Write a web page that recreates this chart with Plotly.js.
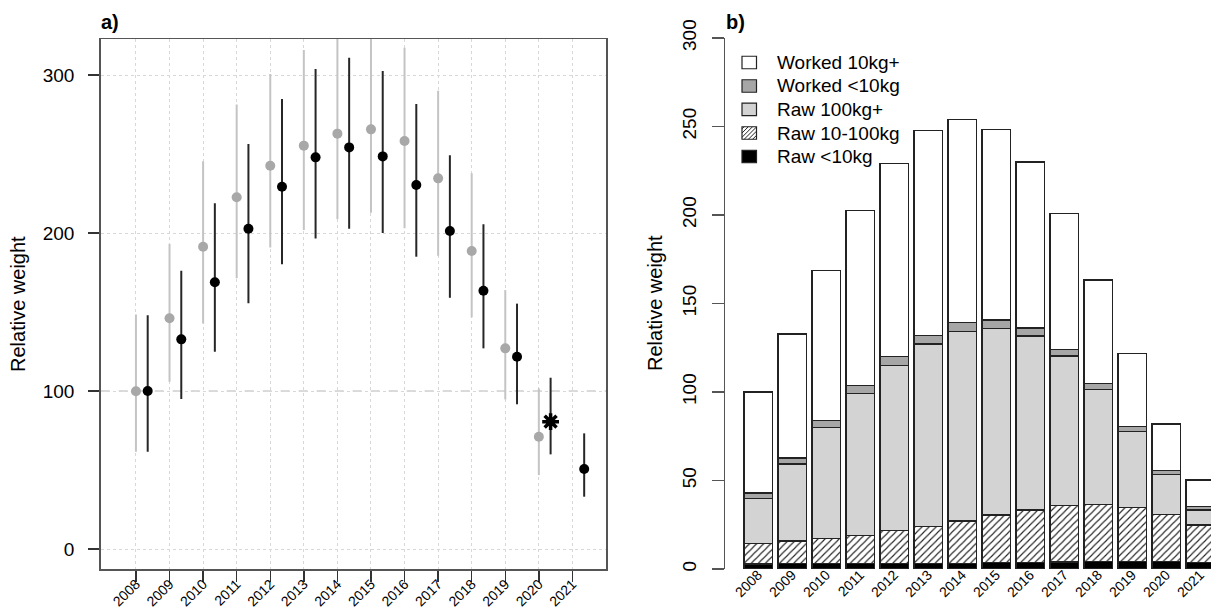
<!DOCTYPE html>
<html><head><meta charset="utf-8">
<script src="https://cdn.plot.ly/plotly-3.0.1.min.js"></script>
<style>html,body{margin:0;padding:0;background:#fff}#chart{width:1211px;height:612px}</style>
</head><body><div id="chart"></div>
<script>
// ---------- DATA ----------
const years = [2008,2009,2010,2011,2012,2013,2014,2015,2016,2017,2018,2019,2020,2021];
const yearLabels = ["2008","2009","2010","2011","2012","2013","2014","2015","2016","2017","2018","2019","2020","2021"];

// panel a) grey series (2008-2020)
const greyYears = [2008,2009,2010,2011,2012,2013,2014,2015,2016,2017,2018,2019,2020];
const greyMean  = [99.8,146,191.3,222.6,242.6,255.3,262.9,265.6,258.2,234.6,188.6,127,71.1];
const greyUpper = [148.5,193,245.4,281.4,300.6,315.8,326,329,317.3,290.1,237.8,163.9,101.7];
const greyLower = [61.6,105.9,142.8,171.3,190.9,201.9,208.9,212.9,203,185.6,146.6,94.7,46.8];

// panel a) black series
const blackYears = [2008,2009,2010,2011,2012,2013,2014,2015,2016,2017,2018,2019,2021];
const blackMean  = [100,132.7,168.8,202.7,229.3,247.9,254.2,248.5,230.4,201.3,163.5,121.7,50.6];
const blackUpper = [147.9,176.1,218.8,256.3,284.8,303.8,311,302.5,281.6,249.2,205.5,155.3,73.2];
const blackLower = [61.6,94.9,124.9,155.5,180.2,196.6,202.7,200,185,159,127,91.6,33.1];

// panel a) starred point (2020)
const starYears = [2020];
const starMean  = [80.6];
const starUpper = [108.4];
const starLower = [59.9];
const baseline = 100;

// panel b) stacked components
const rawLt10      = [2.8,3.2,3.2,3.2,3.2,3.2,3.2,3.8,3.8,4.0,4.2,4.2,4.2,3.6];
const raw10to100   = [11.5,12.6,14.1,15.8,18.4,20.9,23.9,26.7,29.5,31.8,32.3,30.6,26.7,21.3];
const raw100plus   = [25.6,43.5,62.7,80.2,93.5,103,107,105.3,98.3,84.5,65,43,22.4,8.4];
const workedLt10   = [3.0,3.4,3.8,4.6,4.8,4.9,5.1,4.9,4.6,3.8,3.4,2.6,2.2,1.9];
const worked10plus = [57.1,70.1,84.7,98.6,109.3,115.6,114.8,107.7,93.7,76.9,58.4,41.4,26.4,15.1];

const leftYTicks  = [0,100,200,300];
const rightYTicks = [0,50,100,150,200,250,300];
const legendNames = ["Worked 10kg+","Worked <10kg","Raw 100kg+","Raw 10-100kg","Raw <10kg"];

// ---------- LAYOUT HELPERS ----------
const W = 1211, H = 612;
const px = x => x / W;
const py = y => 1 - y / H;
const FONT = "Liberation Sans, Arial, Helvetica, sans-serif";
const offset = 0.35;
const idx = years.map((_, i) => i);

function errs(mean, up, lo) {
  return {type:'data', symmetric:false,
    array: up.map((u,i)=>u-mean[i]), arrayminus: mean.map((m,i)=>m-lo[i])};
}

const traces = [];
traces.push({
  x: greyYears, y: greyMean, type:'scatter', mode:'markers', xaxis:'x', yaxis:'y',
  marker:{color:'#a8a8a8', size:10}, showlegend:false, hoverinfo:'skip',
  error_y: Object.assign(errs(greyMean, greyUpper, greyLower), {color:'#c4c4c4', thickness:2, width:0})
});
traces.push({
  x: blackYears.map(v=>v+offset), y: blackMean, type:'scatter', mode:'markers', xaxis:'x', yaxis:'y',
  marker:{color:'#000', size:10}, showlegend:false, hoverinfo:'skip',
  error_y: Object.assign(errs(blackMean, blackUpper, blackLower), {color:'#262626', thickness:2, width:0})
});
traces.push({
  x: starYears.map(v=>v+offset), y: starMean, type:'scatter', mode:'markers', xaxis:'x', yaxis:'y',
  marker:{symbol:'asterisk-open', color:'#000', size:14, line:{color:'#000', width:3.5}}, showlegend:false, hoverinfo:'skip',
  error_y: Object.assign(errs(starMean, starUpper, starLower), {color:'#262626', thickness:2, width:0})
});

const barLine = {color:'#222', width:1.3};
const bw = 1/1.2;
const stacks = [
  {y: rawLt10, color:'#000'},
  {y: raw10to100, color:'#fff', pattern:{shape:'/', fgcolor:'#222', bgcolor:'#fff', size:5, solidity:0.22}},
  {y: raw100plus, color:'#d3d3d3'},
  {y: workedLt10, color:'#a6a6a6'},
  {y: worked10plus, color:'#fff'}
];
stacks.forEach(s => {
  const m = {color:s.color, line:barLine};
  if (s.pattern) m.pattern = s.pattern;
  traces.push({x: idx, y: s.y, type:'bar', xaxis:'x2', yaxis:'y2', width:bw, marker:m, showlegend:false, hoverinfo:'skip'});
});

// ---------- SHAPES / ANNOTATIONS ----------
const shapes = [
  {type:'line', xref:'x domain', yref:'y', x0:0, x1:1, y0:baseline, y1:baseline, layer:'below', line:{color:'#fff', width:2}},
  {type:'line', xref:'x domain', yref:'y', x0:0, x1:1, y0:baseline, y1:baseline, layer:'below', line:{color:'#cfcfcf', width:1.5, dash:'dash'}}
];
const annotations = [
  {text:'<b>a)</b>', xref:'paper', yref:'paper', x:px(99), y:py(22), xanchor:'left', yanchor:'middle', showarrow:false, font:{family:FONT, size:20, color:'#000'}},
  {text:'<b>b)</b>', xref:'paper', yref:'paper', x:px(724), y:py(22), xanchor:'left', yanchor:'middle', showarrow:false, font:{family:FONT, size:20, color:'#000'}},
  {text:'Relative weight', xref:'paper', yref:'paper', x:px(18), y:py(304), textangle:-90, xanchor:'center', yanchor:'middle', showarrow:false, font:{family:FONT, size:20, color:'#000'}},
  {text:'Relative weight', xref:'paper', yref:'paper', x:px(655), y:py(303), textangle:-90, xanchor:'center', yanchor:'middle', showarrow:false, font:{family:FONT, size:20, color:'#000'}}
];

// manual legend
const legFills = ['#fff','#a6a6a6','#d3d3d3','hatch','#000'];
const legY = [62.5, 86, 109.3, 133, 156.5];
const bx0 = 742, bx1 = 756.5, bh = 12.5;
legendNames.forEach((name, i) => {
  const y0 = legY[i] - bh/2, y1 = legY[i] + bh/2;
  const f = legFills[i];
  shapes.push({type:'rect', xref:'paper', yref:'paper', x0:px(bx0), x1:px(bx1), y0:py(y1), y1:py(y0),
    fillcolor: f==='hatch' ? '#fff' : f, line:{color:'#222', width:1.2}, layer:'above'});
  if (f === 'hatch') {
    const w = bx1-bx0, h = bh, step = 4.2;
    for (let c = -h + step/2; c < w; c += step) {
      const Ylo = Math.max(0, -c), Yhi = Math.min(h, w - c);
      if (Yhi <= Ylo) continue;
      shapes.push({type:'line', xref:'paper', yref:'paper',
        x0:px(bx0 + Ylo + c), y0:py(y1 - Ylo), x1:px(bx0 + Yhi + c), y1:py(y1 - Yhi),
        line:{color:'#222', width:1}, layer:'above'});
    }
  }
  annotations.push({text:name, xref:'paper', yref:'paper', x:px(775), y:py(legY[i]), xanchor:'left', yanchor:'middle', showarrow:false, font:{family:FONT, size:19, color:'#000'}});
});

const layout = {
  width: W, height: H, margin:{l:0, r:0, t:0, b:0},
  paper_bgcolor:'#fff', plot_bgcolor:'#fff',
  font:{family:FONT, color:'#000'},
  showlegend:false, barmode:'stack', bargap:0,
  xaxis:{domain:[px(100.7), px(606)], range:[2006.95, 2022], tickvals: years, ticktext: yearLabels,
    tickangle:-45, ticks:'outside', ticklen:11, tickwidth:1.5, tickcolor:'#333', ticklabelstandoff:-11,
    showline:true, mirror:true, linecolor:'#555', linewidth:1.5,
    showgrid:true, gridcolor:'#d8d8d8', griddash:'dot', gridwidth:1, zeroline:false,
    tickfont:{size:14, family:FONT, color:'#000'}, fixedrange:true},
  yaxis:{domain:[py(569), py(39)], range:[-12.66, 322.8], tickvals: leftYTicks,
    ticks:'outside', ticklen:11, tickwidth:1.5, tickcolor:'#333', ticklabelstandoff:10,
    showline:true, mirror:true, linecolor:'#555', linewidth:1.5,
    showgrid:true, gridcolor:'#d8d8d8', griddash:'dot', gridwidth:1, zeroline:false,
    tickfont:{size:19, family:FONT, color:'#000'}, fixedrange:true},
  xaxis2:{domain:[px(725), 1], range:[-0.976, 13.32], anchor:'y2', tickvals: idx, ticktext: yearLabels,
    tickangle:-45, ticks:'', ticklabelstandoff:-6, showline:false, showgrid:false, zeroline:false,
    tickfont:{size:14, family:FONT, color:'#000'}, fixedrange:true},
  yaxis2:{domain:[py(569), py(38)], range:[0, 300], anchor:'x2', tickvals: rightYTicks, tickangle:-90,
    ticks:'outside', ticklen:12, tickwidth:1.5, tickcolor:'#555', ticklabelstandoff:8,
    showline:true, linecolor:'#555', linewidth:1.5, showgrid:false, zeroline:false,
    tickfont:{size:19, family:FONT, color:'#000'}, fixedrange:true},
  shapes: shapes, annotations: annotations
};

Plotly.newPlot('chart', traces, layout, {staticPlot:true, displayModeBar:false});
</script></body></html>
